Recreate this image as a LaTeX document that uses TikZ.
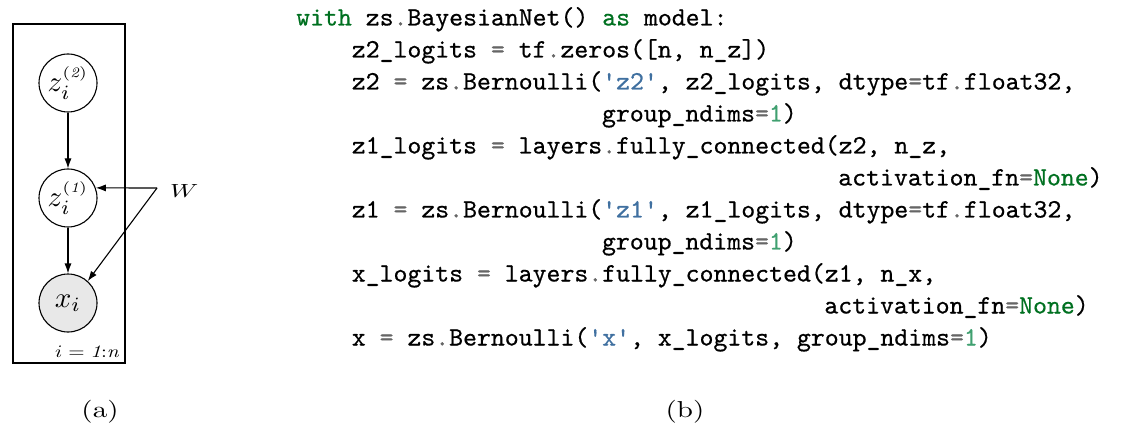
\documentclass[tikz,border=0pt]{standalone}
\usepackage{fontspec}
\newfontfamily\codefont{lmmono10-regular.otf}[FakeBold=0.6]
\usetikzlibrary{arrows.meta}
\definecolor{ckw}{HTML}{007020}
\definecolor{cop}{HTML}{666666}
\definecolor{cstr}{HTML}{4070A0}
\definecolor{cnm}{HTML}{40A070}
\newcommand\ck[1]{\textcolor{ckw}{#1}}
\newcommand\cop[1]{\textcolor{cop}{#1}}
\newcommand\cst[1]{\textcolor{cstr}{\textquotesingle#1\textquotesingle}}
\newcommand\cnm[1]{\textcolor{cnm}{#1}}
\newcommand\varlbl[1]{\scalebox{2.9}{$#1$}}
\begin{document}
\begin{tikzpicture}[x=1pt,y=-1pt,
  codeline/.style={anchor=base west,inner sep=0pt,font=\fontsize{26.5}{30}\codefont},
  var/.style={circle,draw,line width=1.1pt,minimum size=58pt,inner sep=0pt,font=\normalsize},
  obs/.style={var,fill=black!9},
  edge/.style={line width=1.1pt,-{Latex[length=10pt,width=7pt]}},
  lbl/.style={inner sep=0pt,font=\normalsize}]
\useasboundingbox (0,0) rectangle (1126,446);
% graphical model
\node[draw,line width=1.1pt,minimum width=112pt,minimum height=339pt,inner sep=0pt] (plate) at (69,193.5) {};
\node[var] (z2) at (68,83) {\varlbl{z_i^{\scriptscriptstyle\mathit{(2)}}}};
\node[var] (z1) at (68,198) {\varlbl{z_i^{\scriptscriptstyle\mathit{(1)}}}};
\node[obs] (xn) at (68,303) {\varlbl{x_i}};
\coordinate (Wc) at (157,188);
\node[lbl,anchor=west] (W) at (170,191) {\scalebox{2.6}[1.9]{$W$}};
\node[lbl,anchor=base east] (rng) at (119,357) {\scalebox{2.1}[1.75]{$i=\mathit{1{:}n}$}};
\draw[edge] (z2) -- (z1);
\draw[edge] (z1) -- (xn);
\draw[edge] (Wc) -- (z1.20);
\draw[edge] (Wc) -- (xn.48);
\node[lbl] (la) at (100,412) {\scalebox{2.9}[2.3]{(a)}};
\node[lbl] (lb) at (685,412) {\scalebox{2.9}[2.3]{(b)}};
% code
\node[codeline] (c1) at (296,25.5) {\ck{with} zs\cop{.}BayesianNet() \ck{as} model:};
\node[codeline] (c2) at (351.6,57.5) {z2\_logits \cop{=} tf\cop{.}zeros([n, n\_z])};
\node[codeline] (c3) at (351.6,89.5) {z2 \cop{=} zs\cop{.}Bernoulli(\cst{z2}, z2\_logits, dtype\cop{=}tf\cop{.}float32,};
\node[codeline] (c4) at (601.8,121.5) {group\_ndims\cop{=}\cnm{1})};
\node[codeline] (c5) at (351.6,153.5) {z1\_logits \cop{=} layers\cop{.}fully\_connected(z2, n\_z,};
\node[codeline] (c6) at (838.1,185.5) {activation\_fn\cop{=}\ck{None})};
\node[codeline] (c7) at (351.6,217.5) {z1 \cop{=} zs\cop{.}Bernoulli(\cst{z1}, z1\_logits, dtype\cop{=}tf\cop{.}float32,};
\node[codeline] (c8) at (601.8,249.5) {group\_ndims\cop{=}\cnm{1})};
\node[codeline] (c9) at (351.6,281.5) {x\_logits \cop{=} layers\cop{.}fully\_connected(z1, n\_x,};
\node[codeline] (c10) at (824.2,313.5) {activation\_fn\cop{=}\ck{None})};
\node[codeline] (c11) at (351.6,345.5) {x \cop{=} zs\cop{.}Bernoulli(\cst{x}, x\_logits, group\_ndims\cop{=}\cnm{1})};
\end{tikzpicture}
\end{document}
